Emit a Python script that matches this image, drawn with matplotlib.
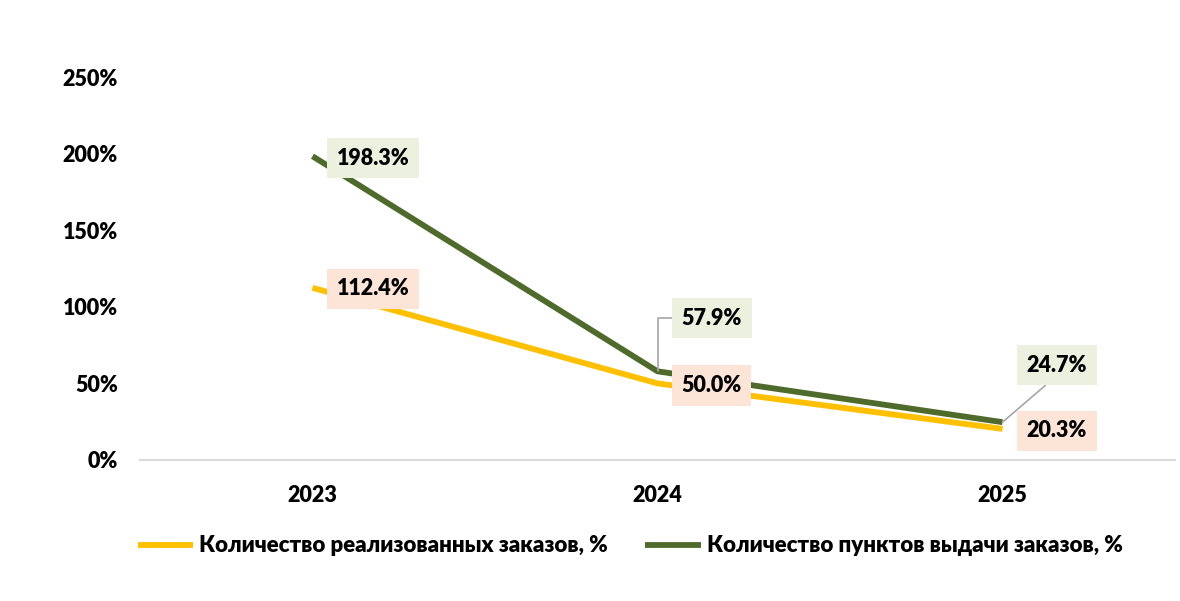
import matplotlib.pyplot as plt
from matplotlib.ticker import FuncFormatter

# Data
years = ["2023", "2024", "2025"]
orders = [112.4, 50.0, 20.3]      # Количество реализованных заказов, %
pickup = [198.3, 57.9, 24.7]      # Количество пунктов выдачи заказов, %
labels_orders = ["Количество реализованных заказов, %"]
labels_pickup = ["Количество пунктов выдачи заказов, %"]

# Style
yellow = "#FFC000"
green = "#4F6B2C"
box_yellow = "#FCE4D6"
box_green = "#EBF1DE"
font = "Lato"
wt = "heavy"

plt.rcParams["font.family"] = [font, "DejaVu Sans"]
plt.rcParams["font.weight"] = wt

fig = plt.figure(figsize=(11.8, 6.01), dpi=100)
ax = fig.add_axes([140 / 1180, 1 - 460 / 601, 1035 / 1180, 383 / 601])

x = list(range(len(years)))
l1, = ax.plot(x, orders, color=yellow, lw=4.2, solid_capstyle="butt", zorder=3)
l2, = ax.plot(x, pickup, color=green, lw=4.2, solid_capstyle="butt", zorder=4)

ax.set_xlim(-0.5, 2.5)
ax.set_ylim(0, 250)
ax.set_yticks(range(0, 251, 50))
ax.yaxis.set_major_formatter(FuncFormatter(lambda v, p: f"{v:.0f}%"))
ax.set_xticks(x)
ax.set_xticklabels(years)
ax.tick_params(axis="y", length=0, labelsize=15.5, pad=16)
ax.tick_params(axis="x", length=0, labelsize=15.5, pad=18)
for lab in ax.get_xticklabels() + ax.get_yticklabels():
    lab.set_fontweight(wt)

for s in ["top", "right", "left"]:
    ax.spines[s].set_visible(False)
ax.spines["bottom"].set_color("#D9D9D9")
ax.spines["bottom"].set_linewidth(1.5)

# data labels, offsets in pixels from the point
def put_label(xi, yi, text, bg, dx, dy, leader=None):
    bbox = dict(boxstyle="square,pad=0.45", fc=bg, ec="none")
    return ax.annotate(text, (xi, yi), xytext=(dx, dy), textcoords="offset pixels",
                       ha="left", va="center", fontsize=15.5, fontweight=wt,
                       color="black", bbox=bbox, zorder=6, arrowprops=leader)

leader1 = dict(arrowstyle="-", color="#A6A6A6", lw=1.2,
               connectionstyle="angle,angleA=0,angleB=90,rad=0",
               shrinkA=0, shrinkB=0, relpos=(0, 0.5))
leader2 = dict(arrowstyle="-", color="#A6A6A6", lw=1.2,
               shrinkA=0, shrinkB=0, relpos=(0.5, 0))

put_label(0, pickup[0], "198.3%", box_green, 24, -2)
put_label(0, orders[0], "112.4%", box_yellow, 24, -1)
put_label(1, pickup[1], "57.9%", box_green, 24, 53, leader=leader1)
put_label(1, orders[1], "50.0%", box_yellow, 24, -2)
put_label(2, pickup[2], "24.7%", box_green, 24, 57, leader=leader2)
put_label(2, orders[2], "20.3%", box_yellow, 24, -2)

fig.legend([l1, l2], labels_orders + labels_pickup, loc="center",
           bbox_to_anchor=(0.534, 1 - 546 / 601), ncol=2, frameon=False,
           handlelength=2.5, handletextpad=0.25, columnspacing=1.7,
           prop=dict(family=[font, "DejaVu Sans"], weight=wt, size=16))

fig.savefig("out.png", dpi=100)
